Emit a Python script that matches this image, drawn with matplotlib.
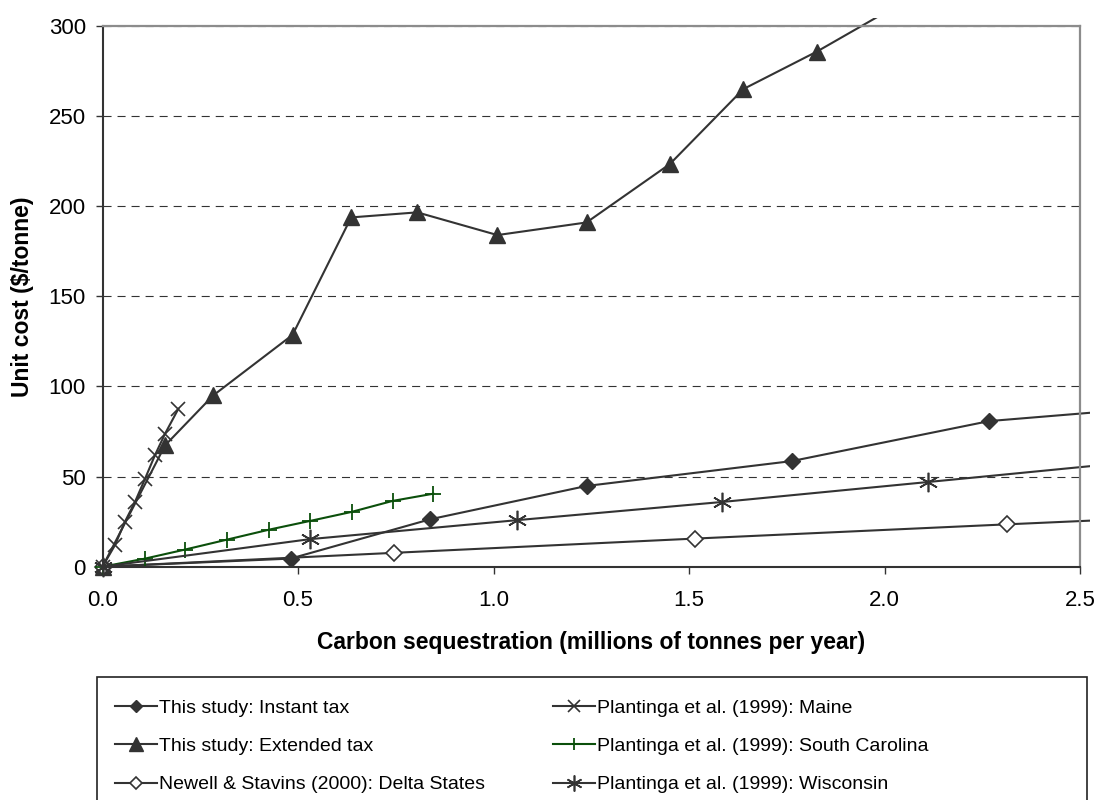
import matplotlib
matplotlib.use("Agg")
import matplotlib.pyplot as plt
from matplotlib.patches import Rectangle

plt.rcParams['font.family'] = ['Liberation Sans', 'DejaVu Sans']
plt.rcParams['lines.scale_dashes'] = False

# ---- data ----
instant_x = [0, 0.481, 0.838, 1.238, 1.763, 2.268, 2.80]
instant_y = [0, 4.5, 26.3, 44.8, 58.6, 80.8, 90.3]

extended_x = [0, 0.16, 0.283, 0.486, 0.636, 0.805, 1.01, 1.238, 1.451, 1.639, 1.827, 2.05]
extended_y = [0, 67.3, 95, 128.6, 193.8, 196.6, 184, 191, 223.4, 265, 285.8, 313.5]

delta_x = [0, 0.746, 1.515, 2.313, 3.1]
delta_y = [0, 7.7, 15.6, 23.5, 31.1]

maine_x = [0, 0.032, 0.057, 0.083, 0.109, 0.134, 0.16, 0.194]
maine_y = [0, 12, 24.8, 35.9, 48.9, 61.8, 73.8, 87.6]

sc_x = [0, 0.109, 0.211, 0.318, 0.427, 0.531, 0.637, 0.742, 0.846]
sc_y = [0, 4.5, 9.5, 15, 20.6, 25.4, 30.4, 36.5, 40.5]

wis_x = [0, 0.531, 1.059, 1.584, 2.112, 2.64]
wis_y = [0, 15.3, 25.8, 35.9, 47, 58.2]

labels = ["This study: Instant tax",
          "This study: Extended tax",
          "Newell & Stavins (2000): Delta States",
          "Plantinga et al. (1999): Maine",
          "Plantinga et al. (1999): South Carolina",
          "Plantinga et al. (1999): Wisconsin"]

x_ticks = [0.0, 0.5, 1.0, 1.5, 2.0, 2.5]
y_ticks = [0, 50, 100, 150, 200, 250, 300]

# ---- figure ----
fig = plt.figure(figsize=(10.99, 8.0), dpi=100)
L, R, B, T = 102.5 / 1099, 1080 / 1099, 1 - 566.7 / 800, 1 - 26 / 800
ax = fig.add_axes([L, B, R - L, T - B])

dark = '#333333'
green = '#0b4f0b'

lines = []
lines += ax.plot(instant_x, instant_y, color=dark, lw=1.5, marker='D', ms=8,
                 mfc=dark, mec=dark, label=labels[0])
lines += ax.plot(extended_x, extended_y, color=dark, lw=1.5, marker='^', ms=11.5,
                 mfc=dark, mec=dark, label=labels[1])
lines += ax.plot(delta_x, delta_y, color=dark, lw=1.5, marker='D', ms=8,
                 mfc='white', mec=dark, mew=1.2, label=labels[2])
lines += ax.plot(maine_x, maine_y, color=dark, lw=1.5, marker='x', ms=10.5,
                 mec=dark, mew=1.2, label=labels[3])
lines += ax.plot(sc_x, sc_y, color=green, lw=1.5, marker='+', ms=11,
                 mec=green, mew=1.3, label=labels[4])
lines += ax.plot(wis_x, wis_y, color=dark, lw=1.5, marker=(6, 2, 0), ms=14,
                 mec=dark, mew=1.2, label=labels[5])

clip = Rectangle((-0.012, -0.02), 1.0225, 1.035, transform=ax.transAxes,
                 fill=False, visible=False)
ax.add_patch(clip)
for ln in lines:
    ln.set_clip_path(clip)

ax.set_xlim(0, 2.5)
ax.set_ylim(0, 300)
ax.set_xticks(x_ticks)
ax.set_xticklabels([f"{v:.1f}" for v in x_ticks])
ax.set_yticks(y_ticks)
ax.set_yticklabels([str(v) for v in y_ticks])
ax.tick_params(axis='both', direction='out', length=5, width=1, color=dark,
               labelsize=16, labelcolor='black')
ax.tick_params(axis='x', pad=12)
ax.tick_params(axis='y', pad=7)

ax.set_axisbelow(True)
ax.yaxis.grid(True, linestyle=(0, (5.8, 4.3)), color=dark, lw=0.8)

for s in ['left', 'bottom']:
    ax.spines[s].set_color(dark)
    ax.spines[s].set_linewidth(1.5)
for s in ['top', 'right']:
    ax.spines[s].set_color('#8c8c8c')
    ax.spines[s].set_linewidth(1.6)

ax.set_xlabel("Carbon sequestration (millions of tonnes per year)",
              fontsize=16.5, fontweight='bold')
ax.set_ylabel("Unit cost ($/tonne)", fontsize=16.5, fontweight='bold')
ax.xaxis.set_label_coords(0.5, (566.7 - 631) / 540.7)
ax.yaxis.set_label_coords((34 - 102.5) / 977.5, 0.5)

# legend frame
fig.patches.append(Rectangle((97 / 1099, -0.01), (1087 - 97) / 1099, 1 - 677 / 800 + 0.01,
                             transform=fig.transFigure, fill=False,
                             edgecolor='#222222', lw=1.2))
leg = ax.legend(handles=lines, labels=labels, ncol=2, loc='upper left',
                bbox_to_anchor=(115 / 1099, 1 - 699 / 800),
                bbox_transform=fig.transFigure, frameon=False, fontsize=14,
                borderpad=0, borderaxespad=0, handlelength=2.15,
                handletextpad=0.12, columnspacing=3.5, labelspacing=1.07,
                markerscale=0.82, numpoints=1)

fig.savefig("out.png", dpi=100)
